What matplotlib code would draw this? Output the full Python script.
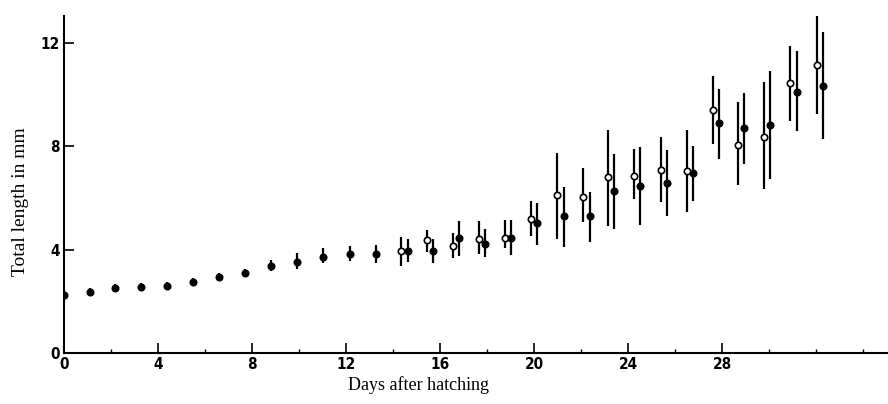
#!/usr/bin/env python3
# Total length of larvae vs days after hatching (open / filled groups)

import matplotlib.pyplot as plt
from matplotlib import font_manager
from matplotlib.ticker import MultipleLocator

# Early days: one group only (filled markers)
early_days = [0, 1.11, 2.17, 3.28, 4.38, 5.49, 6.6, 7.7, 8.81, 9.91, 11.02, 12.17, 13.28]
early_len = [2.24, 2.36, 2.5, 2.55, 2.6, 2.75, 2.94, 3.1, 3.38, 3.53, 3.73, 3.83, 3.83]
early_lo = [2.05, 2.2, 2.35, 2.4, 2.45, 2.6, 2.8, 2.95, 3.18, 3.24, 3.48, 3.55, 3.47]
early_hi = [2.45, 2.5, 2.68, 2.7, 2.75, 2.9, 3.1, 3.25, 3.59, 3.86, 4.05, 4.13, 4.2]

# Later days: open-circle group
open_days = [14.34, 15.45, 16.55, 17.66, 18.77, 19.87, 20.98, 22.09, 23.15,
             24.26, 25.4, 26.51, 27.62, 28.68, 29.79, 30.89, 32.04]
open_len = [3.97, 4.36, 4.14, 4.41, 4.46, 5.2, 6.13, 6.06, 6.83,
            6.84, 7.1, 7.06, 9.4, 8.05, 8.37, 10.47, 11.15]
open_lo = [3.37, 3.9, 3.67, 3.82, 4.05, 4.55, 4.42, 5.07, 4.9,
           5.97, 5.84, 5.45, 8.09, 6.51, 6.35, 8.99, 9.27]
open_hi = [4.51, 4.78, 4.63, 5.13, 5.17, 5.88, 7.73, 7.16, 8.63,
           7.9, 8.35, 8.64, 10.72, 9.72, 10.49, 11.88, 13.04]

# Later days: filled-circle group
fill_days = [14.64, 15.7, 16.81, 17.91, 19.02, 20.13, 21.28, 22.38, 23.4,
             24.51, 25.66, 26.77, 27.87, 28.94, 30.04, 31.19, 32.3]
fill_len = [3.97, 3.95, 4.46, 4.23, 4.46, 5.04, 5.3, 5.3, 6.26,
            6.45, 6.57, 6.98, 8.92, 8.73, 8.83, 10.12, 10.34]
fill_lo = [3.51, 3.47, 3.74, 3.7, 3.78, 4.2, 4.1, 4.29, 4.81,
           4.94, 5.29, 5.9, 7.51, 7.32, 6.74, 8.6, 8.28]
fill_hi = [4.4, 4.4, 5.1, 4.82, 5.17, 5.79, 6.42, 6.22, 7.7,
           7.96, 7.86, 8.02, 10.21, 10.08, 10.92, 11.69, 12.43]

X_TICKS = [0, 4, 8, 12, 16, 20, 24, 28]
Y_TICKS = [0, 4, 8, 12]


def err(vals, lo, hi):
    return [[v - l for v, l in zip(vals, lo)], [h - v for v, h in zip(vals, hi)]]


# narrow bold font for the tick numbers, if one is around
names = {f.name for f in font_manager.fontManager.ttflist}
narrow = [n for n in ["Liberation Sans Narrow", "DejaVu Sans Condensed"] if n in names]
if narrow:
    tick_font = dict(family=narrow[0], weight="bold", size=14)
else:
    tick_font = dict(family="DejaVu Sans", weight="bold", size=11, stretch="condensed")

fig = plt.figure(figsize=(8.88, 4.04), dpi=100)
ax = fig.add_axes([0.072, 0.126, 0.928, 0.834])

common = dict(fmt="o", ecolor="black", elinewidth=1.6, capsize=0, markersize=4.6,
              markeredgecolor="black", markeredgewidth=1.2)
ax.errorbar(early_days, early_len, yerr=err(early_len, early_lo, early_hi),
            markerfacecolor="black", **common)
ax.errorbar(open_days, open_len, yerr=err(open_len, open_lo, open_hi),
            markerfacecolor="white", zorder=3, **common)
ax.errorbar(fill_days, fill_len, yerr=err(fill_len, fill_lo, fill_hi),
            markerfacecolor="black", zorder=3, **common)

ax.set_xlim(0, 35.06)
ax.set_ylim(0, 13.04)

for side in ["top", "right"]:
    ax.spines[side].set_visible(False)
for side in ["left", "bottom"]:
    ax.spines[side].set_linewidth(1.5)

ax.set_xticks(X_TICKS)
ax.set_yticks(Y_TICKS)
ax.xaxis.set_minor_locator(MultipleLocator(2))
ax.tick_params(which="major", direction="in", length=7, width=1.2, pad=3)
ax.tick_params(which="minor", direction="in", length=3, width=1.0)

ax.set_xticklabels([str(t) for t in X_TICKS], **tick_font)
ax.set_yticklabels([str(t) for t in Y_TICKS], **tick_font)

ax.set_xlabel("Days after hatching", family="Liberation Serif", size=13)
ax.set_ylabel("Total length in mm", family="Liberation Serif", size=14)
ax.xaxis.set_label_coords(0.43, -0.068)
ax.yaxis.set_label_coords(-0.043, 0.45)

plt.savefig("out.png", dpi=100)
plt.close()
